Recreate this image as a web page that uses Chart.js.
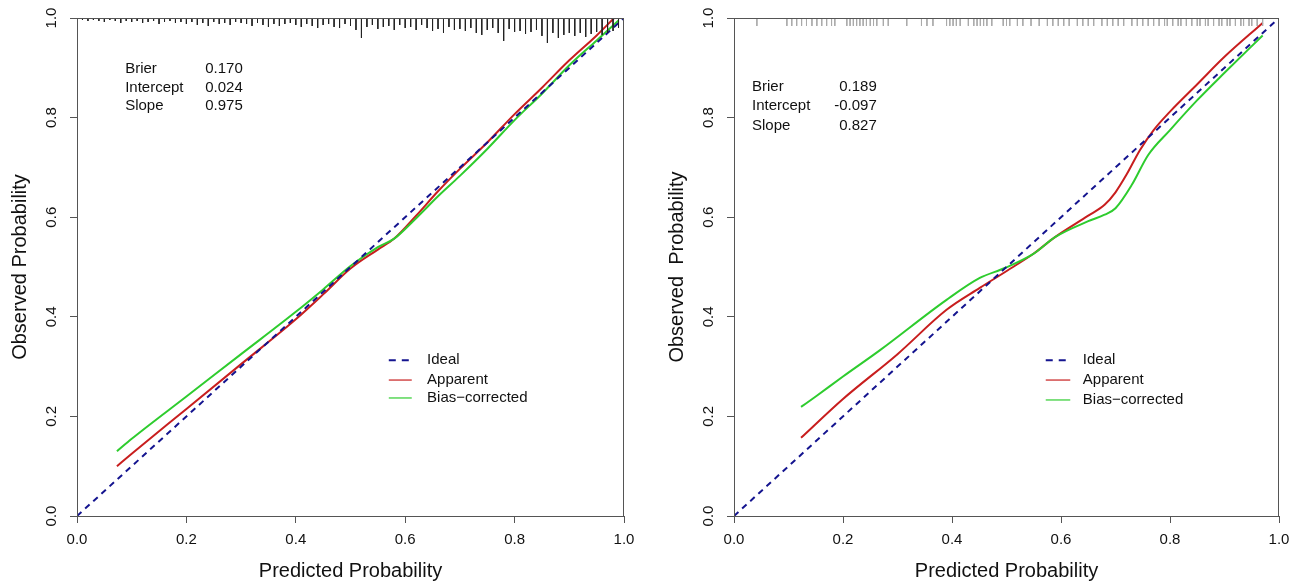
<!DOCTYPE html>
<html>
<head>
<meta charset="utf-8">
<script src="https://cdn.jsdelivr.net/npm/chart.js@4.4.1/dist/chart.umd.min.js"></script>
<style>
  body { margin: 0; background: #fff; }
  #wrap { position: relative; width: 1301px; height: 584px; }
  .panel { position: absolute; top: 0; }
</style>
</head>
<body>
<div id="wrap">
  <div class="panel" style="left:0"><canvas id="calLeft" width="650" height="584"></canvas></div>
  <div class="panel" style="left:650px"><canvas id="calRight" width="651" height="584"></canvas></div>
</div>
<script>
// ---- data ----
const idealX = [0, 1];
const idealY = [0, 1];

// left model
const leftApparentX = [0.073, 0.1, 0.2, 0.3, 0.4, 0.45, 0.5, 0.55, 0.58, 0.62, 0.66, 0.7, 0.75, 0.8, 0.85, 0.9, 0.95, 0.982];
const leftApparentY = [0.100, 0.125, 0.215, 0.305, 0.395, 0.445, 0.497, 0.535, 0.557, 0.603, 0.652, 0.697, 0.75, 0.807, 0.86, 0.915, 0.965, 1.0];
const leftBiasX = [0.073, 0.1, 0.2, 0.3, 0.4, 0.45, 0.5, 0.55, 0.58, 0.62, 0.66, 0.7, 0.75, 0.8, 0.85, 0.9, 0.95, 0.99];
const leftBiasY = [0.130, 0.155, 0.24, 0.325, 0.41, 0.455, 0.502, 0.54, 0.557, 0.598, 0.642, 0.683, 0.737, 0.795, 0.848, 0.905, 0.955, 0.995];
const leftRugX = [0.01, 0.02, 0.03, 0.04, 0.05, 0.06, 0.07, 0.08, 0.09, 0.10,
  0.11, 0.12, 0.13, 0.14, 0.15, 0.16, 0.17, 0.18, 0.19, 0.20,
  0.21, 0.22, 0.23, 0.24, 0.25, 0.26, 0.27, 0.28, 0.29, 0.30,
  0.31, 0.32, 0.33, 0.34, 0.35, 0.36, 0.37, 0.38, 0.39, 0.40,
  0.41, 0.42, 0.43, 0.44, 0.45, 0.46, 0.47, 0.48, 0.49, 0.50,
  0.51, 0.52, 0.53, 0.54, 0.55, 0.56, 0.57, 0.58, 0.59, 0.60,
  0.61, 0.62, 0.63, 0.64, 0.65, 0.66, 0.67, 0.68, 0.69, 0.70,
  0.71, 0.72, 0.73, 0.74, 0.75, 0.76, 0.77, 0.78, 0.79, 0.80,
  0.81, 0.82, 0.83, 0.84, 0.85, 0.86, 0.87, 0.88, 0.89, 0.90,
  0.91, 0.92, 0.93, 0.94, 0.95, 0.96, 0.97, 0.98, 0.99];
const leftRugLen = [0.004, 0.006, 0.004, 0.006, 0.008, 0.004, 0.006, 0.01, 0.006, 0.008,
  0.006, 0.01, 0.008, 0.006, 0.012, 0.008, 0.006, 0.01, 0.008, 0.012,
  0.008, 0.014, 0.01, 0.016, 0.008, 0.012, 0.01, 0.014, 0.008, 0.01,
  0.012, 0.016, 0.01, 0.014, 0.018, 0.012, 0.016, 0.012, 0.01, 0.014,
  0.018, 0.012, 0.016, 0.02, 0.014, 0.012, 0.018, 0.02, 0.012, 0.016,
  0.024, 0.04, 0.018, 0.014, 0.022, 0.018, 0.016, 0.024, 0.014, 0.02,
  0.018, 0.024, 0.014, 0.02, 0.026, 0.022, 0.03, 0.018, 0.024, 0.022,
  0.026, 0.02, 0.03, 0.034, 0.024, 0.02, 0.03, 0.046, 0.022, 0.028,
  0.026, 0.032, 0.028, 0.024, 0.036, 0.05, 0.03, 0.04, 0.034, 0.03,
  0.036, 0.03, 0.038, 0.032, 0.028, 0.034, 0.03, 0.026, 0.02];
const leftStatNames = ['Brier', 'Intercept', 'Slope'];
const leftStatValues = ['0.170', '0.024', '0.975'];

// right model
const rightApparentX = [0.123, 0.2, 0.3, 0.39, 0.451, 0.512, 0.55, 0.589, 0.65, 0.68, 0.70, 0.72, 0.745, 0.77, 0.8, 0.85, 0.9, 0.97];
const rightApparentY = [0.157, 0.235, 0.325, 0.414, 0.458, 0.5, 0.527, 0.56, 0.603, 0.625, 0.65, 0.685, 0.735, 0.775, 0.812, 0.867, 0.922, 0.99];
const rightBiasX = [0.123, 0.15, 0.2, 0.268, 0.39, 0.451, 0.497, 0.55, 0.589, 0.65, 0.68, 0.70, 0.73, 0.76, 0.8, 0.85, 0.9, 0.97];
const rightBiasY = [0.219, 0.24, 0.28, 0.333, 0.434, 0.478, 0.498, 0.527, 0.56, 0.592, 0.605, 0.618, 0.665, 0.725, 0.775, 0.835, 0.89, 0.965];
const rightRugX = [0.042, 0.097, 0.106, 0.115, 0.124, 0.133, 0.143, 0.152, 0.161, 0.170, 0.179, 0.185,
  0.207, 0.213, 0.219, 0.225, 0.231, 0.237, 0.243, 0.25, 0.256, 0.262, 0.274, 0.283, 0.317,
  0.344, 0.354, 0.365, 0.39, 0.396, 0.402, 0.408, 0.415, 0.43, 0.44, 0.446, 0.452, 0.458, 0.464,
  0.473, 0.494, 0.5, 0.506, 0.52, 0.53, 0.545, 0.56, 0.575, 0.585, 0.595, 0.605, 0.615, 0.63,
  0.64, 0.65, 0.66, 0.675, 0.685, 0.695, 0.705, 0.715, 0.73, 0.74, 0.75, 0.76, 0.77, 0.78,
  0.79, 0.795, 0.805, 0.815, 0.82, 0.83, 0.84, 0.85, 0.855, 0.865, 0.87, 0.88, 0.89, 0.895,
  0.905, 0.91, 0.92, 0.93, 0.935, 0.945, 0.95, 0.96, 0.97];
const rightRugTick = 0.016;
const rightStatNames = ['Brier', 'Intercept', 'Slope'];
const rightStatValues = ['0.189', '-0.097', '0.827'];

const legendLabels = ['Ideal', 'Apparent', 'Bias\u2212corrected'];
const axisTicks = [0, 0.2, 0.4, 0.6, 0.8, 1.0];

// ---- drawing ----
Chart.defaults.font.family = "'Liberation Sans', Arial, sans-serif";
Chart.defaults.color = '#111';

const NAVY = '#14148f';
const RED = '#c81e1e';
const GREEN = '#2ecc2e';
const AXIS = '#555';

function zip(xs, ys) {
  return xs.map((x, i) => ({ x: x, y: ys[i] }));
}

function spikes(xs, lens) {
  const pts = [];
  xs.forEach((x, i) => {
    const len = Array.isArray(lens) ? lens[i] : lens;
    pts.push({ x: x, y: 1 });
    pts.push({ x: x, y: 1 - len });
    pts.push({ x: x, y: null });
  });
  return pts;
}

// box around the plot + stats text + legend
const calPlugin = {
  id: 'calExtras',
  afterDraw(chart) {
    const cfg = chart.options.plugins.calExtras;
    const ctx = chart.ctx;
    const xs = chart.scales.x, ys = chart.scales.y;
    const a = chart.chartArea;
    ctx.save();
    ctx.strokeStyle = AXIS;
    ctx.lineWidth = 1;
    ctx.strokeRect(a.left + 0.5, a.top + 0.5, a.right - a.left - 1, a.bottom - a.top);

    ctx.font = "15px 'Liberation Sans', Arial, sans-serif";
    ctx.fillStyle = '#111';
    ctx.textBaseline = 'middle';
    cfg.names.forEach((n, i) => {
      const py = ys.getPixelForValue(cfg.rows[i]);
      ctx.textAlign = 'left';
      ctx.fillText(n, xs.getPixelForValue(cfg.nameX), py);
      ctx.textAlign = 'right';
      ctx.fillText(cfg.values[i], xs.getPixelForValue(cfg.valueX), py);
    });

    const styles = [
      { c: NAVY, dash: [7, 6], w: 2 },
      { c: RED, dash: [], w: 1.2 },
      { c: GREEN, dash: [], w: 1.2 }
    ];
    legendLabels.forEach((lab, i) => {
      const py = ys.getPixelForValue(cfg.legRows[i]);
      ctx.beginPath();
      ctx.strokeStyle = styles[i].c;
      ctx.lineWidth = styles[i].w;
      ctx.setLineDash(styles[i].dash);
      ctx.moveTo(xs.getPixelForValue(cfg.legX0), py);
      ctx.lineTo(xs.getPixelForValue(cfg.legX1), py);
      ctx.stroke();
      ctx.setLineDash([]);
      ctx.textAlign = 'left';
      ctx.fillStyle = '#111';
      ctx.fillText(lab, xs.getPixelForValue(cfg.legText), py);
    });
    ctx.restore();
  }
};

function makeChart(id, opt) {
  return new Chart(document.getElementById(id), {
    type: 'line',
    data: {
      datasets: [
        { data: opt.rug, borderColor: opt.rugColor, borderWidth: 1, pointRadius: 0, spanGaps: false, tension: 0 },
        { data: zip(idealX, idealY), borderColor: NAVY, borderWidth: 2, borderDash: [6, 5], pointRadius: 0 },
        { data: opt.bias, borderColor: GREEN, borderWidth: 2, pointRadius: 0, cubicInterpolationMode: 'monotone' },
        { data: opt.apparent, borderColor: RED, borderWidth: 2, pointRadius: 0, cubicInterpolationMode: 'monotone' }
      ]
    },
    options: {
      responsive: false,
      animation: false,
      layout: { padding: { left: 0, right: opt.padRight, top: 18, bottom: 0 } },
      plugins: {
        legend: { display: false },
        tooltip: { enabled: false },
        calExtras: opt.extras
      },
      scales: {
        x: {
          type: 'linear', min: 0, max: 1,
          afterBuildTicks: s => { s.ticks = axisTicks.map(v => ({ value: v })); },
          afterFit: s => { s.height = 68; },
          border: { display: true, color: AXIS },
          grid: { drawOnChartArea: false, drawTicks: true, tickLength: 7, color: AXIS },
          ticks: { font: { size: 15 }, padding: 8, maxRotation: 0, callback: v => v.toFixed(1) },
          title: { display: true, text: 'Predicted Probability', font: { size: 20 }, padding: { top: 0, bottom: 1 } }
        },
        y: {
          type: 'linear', min: 0, max: 1,
          afterBuildTicks: s => { s.ticks = axisTicks.map(v => ({ value: v })); },
          afterFit: s => { s.width = opt.yWidth; },
          border: { display: true, color: AXIS },
          grid: { drawOnChartArea: false, drawTicks: true, tickLength: 7, color: AXIS },
          ticks: { font: { size: 15 }, padding: 8, minRotation: 90, maxRotation: 90, crossAlign: 'center', callback: v => v.toFixed(1) },
          title: { display: true, text: opt.yTitle, font: { size: 20 }, padding: { top: opt.yTitlePad, bottom: 0 } }
        }
      }
    },
    plugins: [calPlugin]
  });
}

makeChart('calLeft', {
  rug: spikes(leftRugX, leftRugLen),
  rugColor: '#222',
  apparent: zip(leftApparentX, leftApparentY),
  bias: zip(leftBiasX, leftBiasY),
  padRight: 26,
  yWidth: 77,
  yTitle: 'Observed Probability',
  yTitlePad: 8,
  extras: {
    names: leftStatNames, values: leftStatValues,
    nameX: 0.088, valueX: 0.303, rows: [0.898, 0.86, 0.823],
    legX0: 0.570, legX1: 0.612, legText: 0.640, legRows: [0.313, 0.273, 0.237]
  }
});

makeChart('calRight', {
  rug: spikes(rightRugX, rightRugTick),
  rugColor: '#aaa',
  apparent: zip(rightApparentX, rightApparentY),
  bias: zip(rightBiasX, rightBiasY),
  padRight: 22,
  yWidth: 84,
  yTitle: 'Observed  Probability',
  yTitlePad: 15,
  extras: {
    names: rightStatNames, values: rightStatValues,
    nameX: 0.033, valueX: 0.262, rows: [0.861, 0.823, 0.783],
    legX0: 0.572, legX1: 0.617, legText: 0.640, legRows: [0.313, 0.273, 0.233]
  }
});
</script>
</body>
</html>
